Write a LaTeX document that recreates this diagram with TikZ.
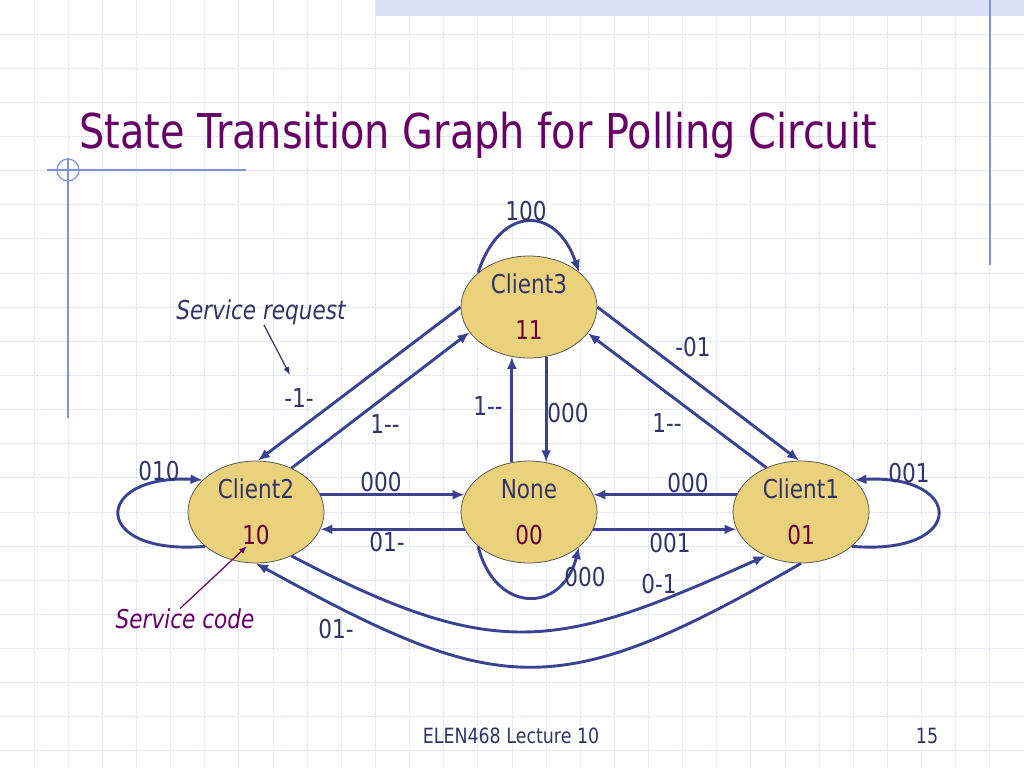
\documentclass[tikz,border=0pt]{standalone}
\usepackage{fontspec}
\setmainfont[FakeStretch=0.83, Ligatures=TeXOff]{DejaVu Sans}
\usetikzlibrary{arrows.meta,shapes.geometric}

\definecolor{titlecol}{RGB}{102,0,102}
\definecolor{txtcol}{RGB}{51,51,102}
\definecolor{codecol}{RGB}{102,0,51}
\definecolor{edgecol}{RGB}{59,66,145}
\definecolor{statefill}{RGB}{234,210,125}
\definecolor{gridcol}{RGB}{222,227,246}
\definecolor{bandcol}{RGB}{218,226,248}
\definecolor{decocol}{RGB}{128,145,220}

\begin{document}
\begin{tikzpicture}[x=0.5pt, y=-0.5pt, >={Latex[length=6pt,width=5pt]},
  state/.style={ellipse, draw=black!65, line width=0.4pt, fill=statefill,
                minimum width=68pt, minimum height=51pt, inner sep=0pt,
                align=center, text=txtcol, font=\fontsize{13}{15.6}\selectfont},
  trans/.style={draw=edgecol, line width=1.45pt, ->},
  lbl/.style={text=txtcol, inner sep=0pt, font=\fontsize{13}{15.6}\selectfont},
  note/.style={inner sep=0pt, font=\fontsize{13}{15.6}\selectfont\itshape},
  pointer/.style={line width=0.6pt, -{Latex[length=4pt,width=3pt]}},
  gridln/.style={draw=gridcol, line width=0.5pt, dash pattern=on 1.5pt off 0.5pt}]
% slide background
\fill[white] (0,0) rectangle (1024,768);
\useasboundingbox (0,0) rectangle (1024,768);
\foreach \k in {1,...,29} \draw[gridln] (\k*34.1333,0) -- (\k*34.1333,768);
\foreach \k in {1,...,22} \draw[gridln] (0,\k*34.1333) -- (1024,\k*34.1333);
\fill[bandcol] (376,0) rectangle (1024,16);
\draw[decocol, line width=0.6pt] (990,0) -- (990,265);
\draw[decocol, line width=0.6pt] (47,170) -- (246,170);
\draw[decocol, line width=0.6pt] (68,158) -- (68,418);
\draw[decocol, line width=0.6pt] (68,170) circle (11);
% title and footer
\node[anchor=base west, text=titlecol, inner sep=0pt, font=\fontsize{24}{28}\selectfont]
  (title) at (79,148) {State Transition Graph for Polling Circuit};
\node[anchor=base, text=txtcol, inner sep=0pt, font=\fontsize{10.5}{12}\selectfont]
  (foot) at (511,743) {ELEN468 Lecture 10};
\node[anchor=base, text=txtcol, inner sep=0pt, font=\fontsize{10.5}{12}\selectfont]
  (pageno) at (927,743) {15};
% states
\node[state] (c3) at (529,307) {Client3\\[7.4pt]\textcolor{codecol}{11}};
\node[state] (c2) at (256,512) {Client2\\[7.4pt]\textcolor{codecol}{10}};
\node[state] (none) at (529,512) {None\\[7.4pt]\textcolor{codecol}{00}};
\node[state] (c1) at (801,512) {Client1\\[7.4pt]\textcolor{codecol}{01}};
% self loops
\draw[trans] (c3.146) .. controls (500,205) and (556,205) .. (c3.35);
\draw[trans] (none.214) .. controls (495,614) and (562,614) .. (none.325);
\draw[trans] (c2.214) .. controls (90,556) and (92,474) .. (c2.149);
\draw[trans] (c1.326) .. controls (967,556) and (965,474) .. (c1.31);
% transitions around Client3
\draw[trans] (c3.180) -- (c2.88);
\draw[trans] (c2.51) -- (c3.203);
\draw[trans] (c3.0) -- (c1.92);
\draw[trans] (c1.128) -- (c3.336);
\draw[trans] (none.109) -- (c3.251);
\draw[trans] (c3.289) -- (none.71);
% transitions along the bottom row
\draw[trans] (c2.15) -- (none.165);
\draw[trans] (none.195) -- (c2.345);
\draw[trans] (c1.165) -- (none.15);
\draw[trans] (none.345) -- (c1.195);
\draw[trans] (c2.309) .. controls (499,665) and (560,648) .. (c1.231);
\draw[trans] (c1.270) .. controls (557,704) and (501,698) .. (c2.270);
% input labels
\node[lbl] (l100) at (526,211) {100};
\node[lbl] (l1a) at (299,398) {-1-};
\node[lbl] (l1b) at (385,424) {1--};
\node[lbl] (l1c) at (488,406) {1--};
\node[lbl] (l000a) at (568,413) {000};
\node[lbl] (l01a) at (693,347) {-01};
\node[lbl] (l1d) at (667,423) {1--};
\node[lbl] (l010) at (159,471) {010};
\node[lbl] (l001a) at (909,473) {001};
\node[lbl] (l000b) at (381,482) {000};
\node[lbl] (l01b) at (387,542) {01-};
\node[lbl] (l000c) at (688,483) {000};
\node[lbl] (l001b) at (670,543) {001};
\node[lbl] (l000d) at (585,577) {000};
\node[lbl] (l0m1) at (659,584) {0-1};
\node[lbl] (l01c) at (336,629) {01-};
% annotations
\node[note, text=txtcol] (sreq) at (261,312) {Service request};
\coordinate (sreqtip) at (290,375);
\draw[pointer, draw=txtcol, fill=txtcol] ([xshift=1.5pt]sreq.south) -- (sreqtip);
\node[note, text=titlecol] (scode) at (185,619) {Service code};
\coordinate (scodetip) at (247,546);
\draw[pointer, draw=titlecol, fill=titlecol] ([xshift=-2.5pt]scode.north) -- (scodetip);
\end{tikzpicture}
\end{document}
